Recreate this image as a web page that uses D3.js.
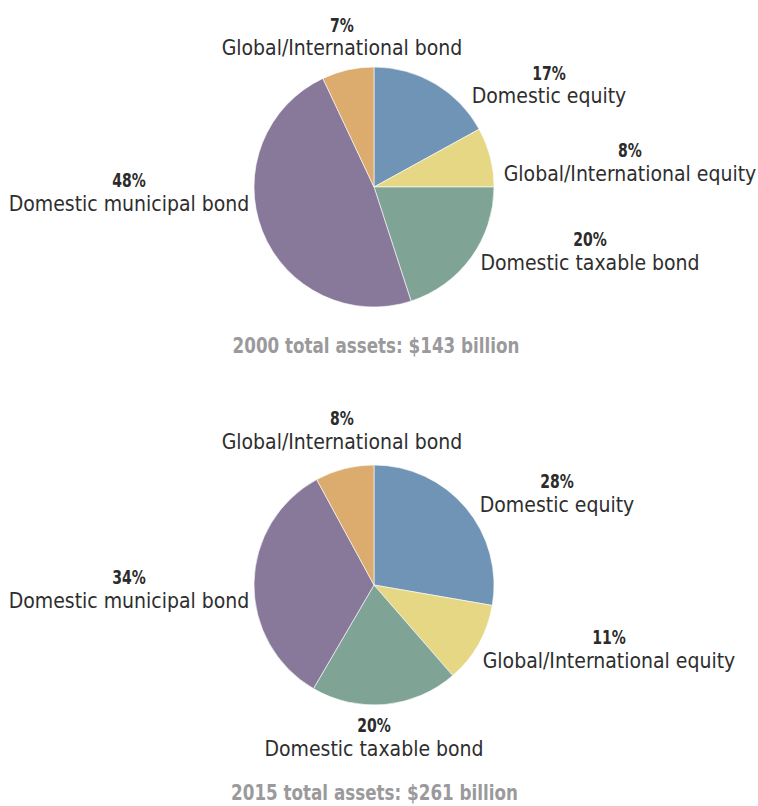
<!DOCTYPE html>
<html><head><meta charset="utf-8">
<script src="https://cdn.jsdelivr.net/npm/d3@7"></script>
<style>body{margin:0;background:#fff}</style></head>
<body><svg id="c" width="758" height="806"></svg>
<script>
const categories = ["Domestic equity","Global/International equity","Domestic taxable bond","Domestic municipal bond","Global/International bond"];
const values2000 = [17, 8, 20, 48, 7];
const values2015 = [28, 11, 20, 34, 8];
const titles = ["2000 total assets: $143 billion","2015 total assets: $261 billion"];
const colors = ["#7094b5","#e5d784","#7fa496","#88799a","#dcab6e"];

// layout: label anchors (center x, percentage baseline y) per chart (not data)
const layout = [
  {cx:374, cy:187, title:[376,353], labels:[[549,79.5],[630,157],[590,246],[129,187],[342,31.5]]},
  {cx:374, cy:585, title:[374.5,800], labels:[[557,488],[609,644],[374,732],[129,584],[342,425]]}
];
const R = 120;
const svg = d3.select("#c");
const font = "'DejaVu Sans Condensed','Liberation Sans Narrow',sans-serif";
const color = d3.scaleOrdinal().domain(categories).range(colors);
const pie = d3.pie().sort(null).value(d=>d.v);
const arc = d3.arc().innerRadius(0).outerRadius(R);

function narrowText(x, y, sx, txt, size, weight, fill){
  return svg.append("g").attr("transform", `translate(${x},${y}) scale(${sx},1)`)
    .append("text").attr("x",0).attr("y",0).attr("text-anchor","middle")
    .style("font-family",font).style("font-weight",weight).style("font-size",size+"px")
    .style("fill",fill).text(txt);
}

[values2000, values2015].forEach((vals, i) => {
  const L = layout[i];
  const data = categories.map((c,k)=>({c, v: vals[k]}));
  const g = svg.append("g").attr("transform", `translate(${L.cx},${L.cy})`);
  g.selectAll("path").data(pie(data)).join("path")
    .attr("d", arc).attr("fill", d=>color(d.data.c))
    .attr("stroke","#ffffff").attr("stroke-width",0.6);
  data.forEach((d,k)=>{
    const [x,y] = L.labels[k];
    narrowText(x, y, 0.8, d.v+"%", 19.5, "bold", "#2b2b2b");
    svg.append("text").attr("x",x).attr("y",y+23.5).attr("text-anchor","middle")
      .style("font-family",font).style("fill","#2e2e2e").style("font-size","21px").text(d.c);
  });
  narrowText(L.title[0], L.title[1], 0.847, titles[i], 22, "bold", "#9a9a9c");
});
</script></body></html>
